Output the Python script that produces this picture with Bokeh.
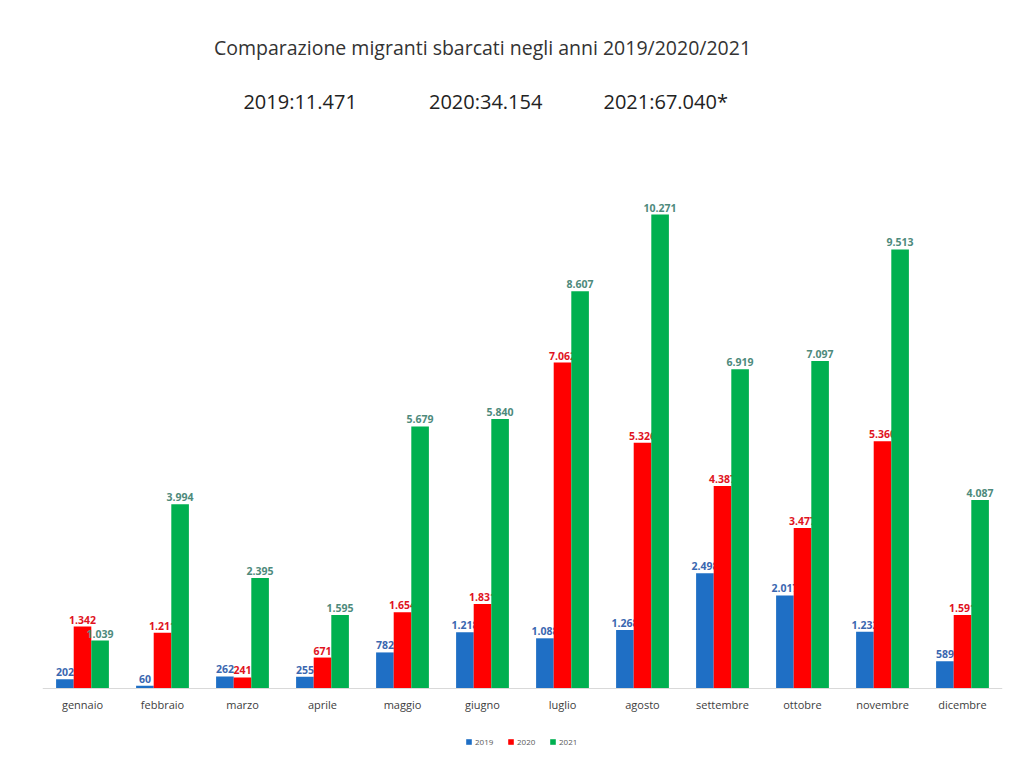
from bokeh.plotting import figure
from bokeh.models import ColumnDataSource, FactorRange, Range1d, Legend, LegendItem, Label
from bokeh.transform import dodge
from bokeh.embed import file_html
from bokeh.resources import INLINE
from bokeh.core.properties import value

months = ["gennaio", "febbraio", "marzo", "aprile", "maggio", "giugno",
          "luglio", "agosto", "settembre", "ottobre", "novembre", "dicembre"]
y2019 = [202, 60, 262, 255, 782, 1218, 1088, 1268, 2498, 2017, 1232, 589]
y2020 = [1342, 1211, 241, 671, 1654, 1831, 7062, 5326, 4387, 3477, 5360, 1591]
y2021 = [1039, 3994, 2395, 1595, 5679, 5840, 8607, 10271, 6919, 7097, 9513, 4087]
years = ["2019", "2020", "2021"]
totals = ["2019:11.471", "2020:34.154", "2021:67.040*"]
title_text = "Comparazione migranti sbarcati negli anni 2019/2020/2021"

def fmt(v):
    return f"{v:,}".replace(",", ".")

src = ColumnDataSource(dict(
    month=months,
    y2019=y2019, y2020=y2020, y2021=y2021,
    l2019=[fmt(v) for v in y2019],
    l2020=[fmt(v) for v in y2020],
    l2021=[fmt(v) for v in y2021],
))

FONT = "Open Sans"

p = figure(x_range=FactorRange(*months), y_range=Range1d(-1343, 14735),
           width=1020, height=750, output_backend="svg", toolbar_location=None,
           min_border_left=42, min_border_right=18, min_border_top=8, min_border_bottom=0)
p.outline_line_color = None
p.background_fill_color = "white"
p.border_fill_color = "white"
p.xgrid.grid_line_color = None
p.ygrid.grid_line_color = None
p.yaxis.visible = False
p.xaxis.fixed_location = 0
p.xaxis.axis_line_color = "#d9d9d9"
p.xaxis.major_tick_line_color = None
p.xaxis.minor_tick_line_color = None
p.xaxis.major_label_text_font = FONT
p.xaxis.major_label_text_font_size = "11px"
p.xaxis.major_label_text_color = "#404040"
p.xaxis.major_label_standoff = 2
p.x_range.range_padding = 0

cols = ["#1f6fc5", "#ff0000", "#00b050"]
lab_cols = ["#3a67b0", "#e0141e", "#4e8a7c"]
offs = [-0.22, 0.0, 0.22]
keys = ["2019", "2020", "2021"]
renderers = []
for k, c, lc, o in zip(keys, cols, lab_cols, offs):
    r = p.vbar(x=dodge("month", o, range=p.x_range), top="y" + k, width=0.22,
               source=src, fill_color=c, line_color=None)
    renderers.append(r)
    p.text(x=dodge("month", o, range=p.x_range), y="y" + k, text="l" + k, source=src,
           text_align="center", text_baseline="bottom", y_offset=-3,
           text_font=value(FONT), text_font_size="10.5px", text_font_style="bold",
           text_color=lc)

p.add_layout(Label(x=5.5, y=13890, text=title_text, text_align="center",
                   text_baseline="middle", text_font=FONT, text_font_size="19.5px",
                   text_color="#333333"))
for xx, t in zip([3.22, 5.54, 7.79], totals):
    p.add_layout(Label(x=xx, y=12720, text=t, text_align="center",
                       text_baseline="middle", text_font=FONT, text_font_size="20px",
                       text_color="#222222"))

legend = Legend(items=[LegendItem(label=y, renderers=[r]) for y, r in zip(years, renderers)],
                orientation="horizontal", location="bottom_center",
                label_text_font=FONT, label_text_font_size="8px", label_text_color="#595959",
                glyph_width=7, glyph_height=7, spacing=12, padding=1, margin=3,
                label_standoff=3, label_height=8,
                border_line_color=None, background_fill_alpha=0)
p.add_layout(legend)

open("out.html", "w").write(file_html(p, INLINE))
